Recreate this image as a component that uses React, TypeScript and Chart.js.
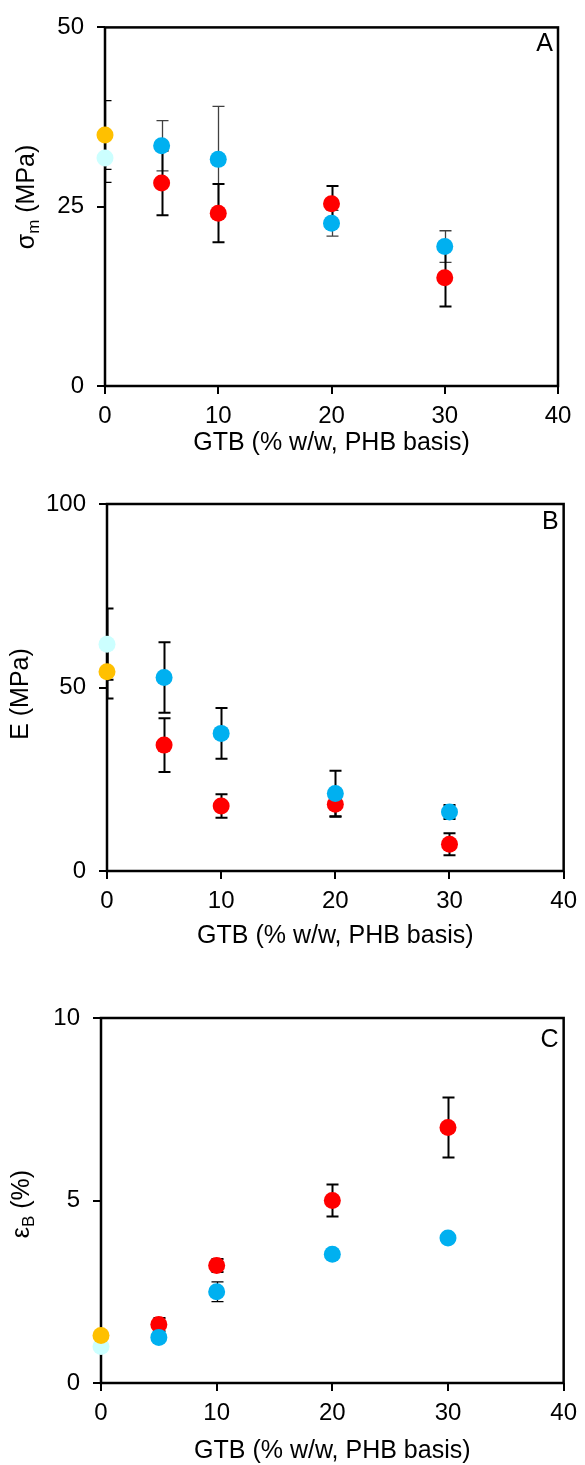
import React, { useEffect, useRef } from 'react';
import { Chart, registerables } from 'chart.js';

Chart.register(...registerables);

const FONT = "'Liberation Sans', Arial, Helvetica, sans-serif";

// x positions (GTB content, % w/w PHB basis)
const gtbLevels = [5, 10, 20, 30];
const neatLevel = [0];
const xTickValues = [0, 10, 20, 30, 40];

// Panel A: sigma_m (MPa)
const aRed = [28.3, 24.1, 25.4, 15.1];
const aRedErr = [4.5, 4.05, 2.5, 4.0];
const aBlue = [33.5, 31.6, 22.7, 19.45];
const aBlueErr = [3.5, 7.4, 1.8, 2.2];
const aOrange = [35.0];
const aOrangeErr = [4.8];
const aCyan = [31.8];
const aCyanErr = [3.4];
const aYTicks = [0, 25, 50];

// Panel B: E (MPa)
const bRed = [34.3, 17.7, 18.2, 7.3];
const bRedErr = [7.3, 3.2, 3.4, 3.0];
const bBlue = [52.7, 37.5, 21.1, 16.1];
const bBlueErr = [9.6, 6.9, 6.2, 1.9];
const bOrange = [54.3];
const bOrangeErr = [7.3];
const bCyan = [61.8];
const bCyanErr = [9.7];
const bYTicks = [0, 50, 100];

// Panel C: epsilon_B (%)
const cRed = [1.6, 3.22, 5.0, 7.0];
const cRedErr = [0.18, 0.18, 0.44, 0.82];
const cBlue = [1.25, 2.5, 3.53, 3.97];
const cBlueErr = [0.1, 0.27, 0.1, 0.1];
const cOrange = [1.3];
const cOrangeErr = [0.1];
const cCyan = [1.0];
const cCyanErr = [0.08];
const cYTicks = [0, 5, 10];

const RED = '#FF0000';
const BLUE = '#00B0F0';
const ORANGE = '#FFC000';
const CYAN = '#CCFFFF';

type Part = { t: string; sub?: boolean };

type PanelCfg = {
  key: string;
  canvasTop: number;
  canvasH: number;
  plotTop: number;
  plotBottom: number;
  plotLeft: number;
  plotRight: number;
  yTicks: number[];
  letter: string;
  letterY: number;
  xTitleOffset: number;
  yTitle: Part[];
  yTitleX: number;
  yTitleY: number;
  series: {
    xs: number[];
    ys: number[];
    errs: number[];
    color: string;
    errColor: string;
    errWidth: number;
  }[];
};

const panels: PanelCfg[] = [
  {
    key: 'A',
    canvasTop: 0,
    canvasH: 470,
    plotTop: 24,
    plotBottom: 386,
    plotLeft: 105,
    plotRight: 558,
    yTicks: aYTicks,
    letter: 'A',
    letterY: 44,
    xTitleOffset: 57,
    yTitle: [{ t: 'σ' }, { t: 'm', sub: true }, { t: ' (MPa)' }],
    yTitleX: 27,
    yTitleY: 197,
    series: [
      { xs: gtbLevels, ys: aBlue, errs: aBlueErr, color: BLUE, errColor: '#404040', errWidth: 1.3 },
      { xs: gtbLevels, ys: aRed, errs: aRedErr, color: RED, errColor: '#000', errWidth: 2 },
      { xs: neatLevel, ys: aOrange, errs: aOrangeErr, color: ORANGE, errColor: '#000', errWidth: 1.3 },
      { xs: neatLevel, ys: aCyan, errs: aCyanErr, color: CYAN, errColor: '#000', errWidth: 1.3 },
    ],
  },
  {
    key: 'B',
    canvasTop: 470,
    canvasH: 510,
    plotTop: 504,
    plotBottom: 871,
    plotLeft: 107,
    plotRight: 567,
    yTicks: bYTicks,
    letter: 'B',
    letterY: 522,
    xTitleOffset: 65,
    yTitle: [{ t: 'E (MPa)' }],
    yTitleX: 21,
    yTitleY: 694,
    series: [
      { xs: gtbLevels, ys: bBlue, errs: bBlueErr, color: BLUE, errColor: '#000', errWidth: 2 },
      { xs: gtbLevels, ys: bRed, errs: bRedErr, color: RED, errColor: '#000', errWidth: 2 },
      { xs: neatLevel, ys: bOrange, errs: bOrangeErr, color: ORANGE, errColor: '#000', errWidth: 2 },
      { xs: neatLevel, ys: bCyan, errs: bCyanErr, color: CYAN, errColor: '#000', errWidth: 2 },
    ],
  },
  {
    key: 'C',
    canvasTop: 980,
    canvasH: 485,
    plotTop: 1018,
    plotBottom: 1383,
    plotLeft: 101,
    plotRight: 567,
    yTicks: cYTicks,
    letter: 'C',
    letterY: 1040,
    xTitleOffset: 68,
    yTitle: [{ t: 'ε' }, { t: 'B', sub: true }, { t: ' (%)' }],
    yTitleX: 22,
    yTitleY: 1204,
    series: [
      { xs: gtbLevels, ys: cBlue, errs: cBlueErr, color: BLUE, errColor: '#000', errWidth: 1.3 },
      { xs: gtbLevels, ys: cRed, errs: cRedErr, color: RED, errColor: '#000', errWidth: 2 },
      { xs: neatLevel, ys: cOrange, errs: cOrangeErr, color: ORANGE, errColor: '#000', errWidth: 1.3 },
      { xs: neatLevel, ys: cCyan, errs: cCyanErr, color: CYAN, errColor: '#000', errWidth: 1.3 },
    ],
  },
];

const CAP = 6;

function makePlugin(cfg: PanelCfg) {
  return {
    id: 'decor' + cfg.key,
    beforeDatasetsDraw(chart: any) {
      const { ctx, chartArea } = chart;
      const xs = chart.scales.x;
      const ys = chart.scales.y;
      // error bars, clipped to plot area
      ctx.save();
      ctx.beginPath();
      ctx.rect(chartArea.left, chartArea.top, chartArea.right - chartArea.left, chartArea.bottom - chartArea.top);
      ctx.clip();
      chart.data.datasets.forEach((ds: any) => {
        ds.data.forEach((p: any, i: number) => {
          const e = ds.errors[i];
          if (!e) return;
          const px = Math.round(xs.getPixelForValue(p.x)) + 0.5;
          const yT = ys.getPixelForValue(p.y + e);
          const yB = ys.getPixelForValue(p.y - e);
          ctx.strokeStyle = ds.errColor;
          ctx.lineWidth = ds.errWidth;
          ctx.beginPath();
          ctx.moveTo(px, yT);
          ctx.lineTo(px, yB);
          ctx.moveTo(px - CAP, yT);
          ctx.lineTo(px + CAP, yT);
          ctx.moveTo(px - CAP, yB);
          ctx.lineTo(px + CAP, yB);
          ctx.stroke();
        });
      });
      ctx.restore();
      // frame
      ctx.save();
      ctx.strokeStyle = '#000';
      ctx.lineWidth = 2.5;
      ctx.strokeRect(chartArea.left, chartArea.top, chartArea.right - chartArea.left, chartArea.bottom - chartArea.top);
      ctx.restore();
    },
    afterDraw(chart: any) {
      const { ctx, chartArea } = chart;
      ctx.save();
      ctx.fillStyle = '#000';
      // panel letter
      ctx.font = `25px ${FONT}`;
      ctx.textAlign = 'right';
      ctx.textBaseline = 'middle';
      ctx.fillText(cfg.letter, chartArea.right - 5, cfg.letterY - cfg.canvasTop);
      // x title
      ctx.textAlign = 'center';
      ctx.font = `25px ${FONT}`;
      ctx.fillText('GTB (% w/w, PHB basis)', (chartArea.left + chartArea.right) / 2, chartArea.bottom + cfg.xTitleOffset);
      // y title (rotated, with subscript)
      ctx.translate(cfg.yTitleX, cfg.yTitleY - cfg.canvasTop);
      ctx.rotate(-Math.PI / 2);
      const mainFont = `25px ${FONT}`;
      const subFont = `17px ${FONT}`;
      let total = 0;
      const widths = cfg.yTitle.map((p) => {
        ctx.font = p.sub ? subFont : mainFont;
        const w = ctx.measureText(p.t).width;
        total += w;
        return w;
      });
      let x = -total / 2;
      ctx.textAlign = 'left';
      ctx.textBaseline = 'middle';
      cfg.yTitle.forEach((p, i) => {
        ctx.font = p.sub ? subFont : mainFont;
        ctx.fillText(p.t, x, p.sub ? 7 : 0);
        x += widths[i];
      });
      ctx.restore();
    },
  };
}

function makeConfig(cfg: PanelCfg): any {
  const datasets = cfg.series.map((s) => ({
    data: s.xs.map((x, i) => ({ x, y: s.ys[i] })),
    errors: s.errs,
    errColor: s.errColor,
    errWidth: s.errWidth,
    backgroundColor: s.color,
    borderColor: s.color,
    borderWidth: 0,
    pointRadius: 8.5,
    pointHoverRadius: 8.5,
    showLine: false,
    clip: false,
  }));
  const yMax = cfg.yTicks[cfg.yTicks.length - 1];
  const localTop = cfg.plotTop - cfg.canvasTop;
  const localBottom = cfg.plotBottom - cfg.canvasTop;
  const tickFont = { family: FONT, size: 24 };
  return {
    type: 'scatter',
    data: { datasets },
    options: {
      responsive: false,
      animation: false,
      events: [],
      layout: { padding: { top: localTop, right: 585 - cfg.plotRight, left: 0, bottom: 0 } },
      plugins: { legend: { display: false }, tooltip: { enabled: false } },
      scales: {
        x: {
          type: 'linear',
          min: 0,
          max: 40,
          afterBuildTicks: (s: any) => {
            s.ticks = xTickValues.map((v) => ({ value: v }));
          },
          afterFit: (s: any) => {
            s.height = cfg.canvasH - localBottom;
          },
          grid: { drawOnChartArea: false, drawTicks: true, tickLength: 8, color: '#000', lineWidth: 2 },
          border: { display: false },
          ticks: { font: tickFont, color: '#000', padding: 8, maxRotation: 0, autoSkip: false },
        },
        y: {
          type: 'linear',
          min: 0,
          max: yMax,
          afterBuildTicks: (s: any) => {
            s.ticks = cfg.yTicks.map((v) => ({ value: v }));
          },
          afterFit: (s: any) => {
            s.width = cfg.plotLeft;
          },
          grid: { drawOnChartArea: false, drawTicks: true, tickLength: 8, color: '#000', lineWidth: 2 },
          border: { display: false },
          ticks: { font: tickFont, color: '#000', padding: 13, autoSkip: false },
        },
      },
    },
    plugins: [makePlugin(cfg)],
  };
}

function Panel({ cfg }: { cfg: PanelCfg }) {
  const ref = useRef<HTMLCanvasElement>(null);
  useEffect(() => {
    const chart = new Chart(ref.current as HTMLCanvasElement, makeConfig(cfg));
    return () => chart.destroy();
  }, [cfg]);
  return (
    <canvas
      ref={ref}
      width={585}
      height={cfg.canvasH}
      style={{ position: 'absolute', left: 0, top: cfg.canvasTop, display: 'block', width: 585, height: cfg.canvasH }}
    />
  );
}

export default function App() {
  return (
    <div style={{ position: 'absolute', left: 0, top: 0, width: 585, height: 1465, background: '#fff', overflow: 'hidden' }}>
      {panels.map((p) => (
        <Panel key={p.key} cfg={p} />
      ))}
    </div>
  );
}
